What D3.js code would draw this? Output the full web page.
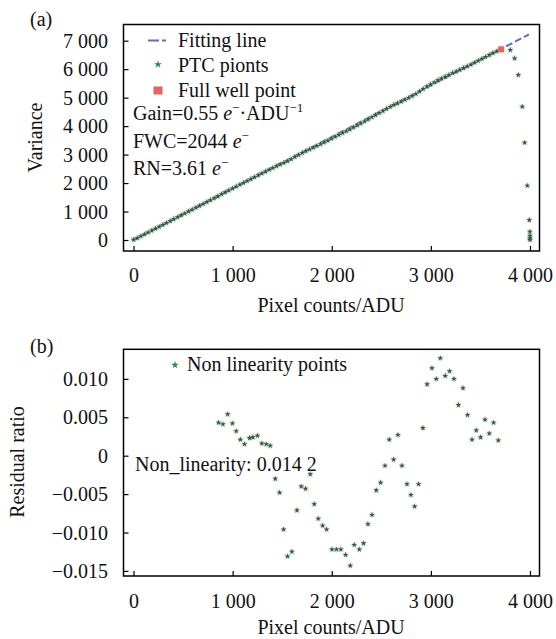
<!DOCTYPE html>
<html><head><meta charset="utf-8">
<script src="https://cdn.jsdelivr.net/npm/d3@7"></script>
<style>
body{margin:0;background:#fff}
svg{display:block}
text{font-family:"Liberation Serif","Times New Roman",serif;fill:#111}
</style>
</head><body>
<svg id="c" width="556" height="639"></svg>
<script>
// ---------- data ----------
const ptcX=[0,37,74,111,148,185,222,259,296,333,370,407,444,481,518,555,592,629,666,703,
740,777,814,851,888,925,962,999,1036,1073,1110,1147,1184,1221,1258,1295,1332,1369,1406,1443,
1480,1517,1554,1591,1628,1665,1702,1739,1776,1813,1850,1887,1924,1961,1998,2035,2072,2109,2146,2183,
2220,2257,2294,2331,2368,2405,2442,2479,2516,2553,2590,2627,2664,2701,2738,2775,2812,2849,2886,2923,
2960,2997,3034,3071,3108,3145,3182,3219,3256,3293,3330,3367,3404,3441,3478,3515,3552,3589,3626,3663,3700];
const ptcY=[10,67,134,200,267,334,401,467,534,601,668,735,801,868,935,1002,1069,1135,1202,1269,
1336,1402,1469,1536,1609,1676,1745,1810,1876,1943,2008,2074,2141,2208,2274,2339,2406,2471,2533,2595,
2655,2711,2771,2843,2918,2990,3060,3123,3184,3243,3306,3365,3431,3494,3563,3629,3695,3761,3824,3885,
3959,4025,4095,4169,4240,4315,4390,4462,4532,4608,4677,4747,4803,4865,4927,4989,5061,5132,5219,5308,
5391,5464,5536,5610,5672,5734,5800,5862,5918,5980,6041,6101,6162,6230,6297,6364,6430,6497,6565,6625,6692];
const dropX=[3801,3845,3882,3922,3946,3973,3993,3999,4000,4000,4000];
const dropY=[6674,6382,5796,4683,3418,1908,703,292,150,60,5];
const fullX=[3710], fullY=[6698];
const fitX=[0,3990], fitY=[0,7222];

const resX=[858,902,950,998,1036,1078,1120,1171,1205,1251,1295,1339,1379,1430,1474,1514,1554,1598,1649,1692,
1736,1783,1823,1864,1908,1948,2002,2047,2092,2140,2187,2227,2278,2321,2365,2406,2449,2493,2537,2580,
2624,2668,2708,2759,2799,2836,2876,2920,2962,3011,3055,3095,3145,3189,3233,3278,3324,3370,3415,3458,
3502,3546,3589,3633,3680];
const resY=[0.0043,0.0041,0.0054,0.0042,0.0032,0.0021,0.0015,0.0023,0.0024,0.0026,0.0016,0.0015,0.0013,-0.0030,-0.0048,-0.0096,-0.0131,-0.0125,-0.0071,-0.0040,
-0.0043,-0.0024,-0.0063,-0.0082,-0.0091,-0.0096,-0.0122,-0.0122,-0.0122,-0.0129,-0.0143,-0.0116,-0.0122,-0.0114,-0.0089,-0.0077,-0.0045,-0.0035,-0.0013,0.0021,
-0.0005,0.0027,-0.0013,-0.0037,-0.0051,-0.0066,-0.0037,0.0036,0.0093,0.0114,0.0100,0.0127,0.0104,0.0110,0.0100,0.0066,0.0088,0.0053,0.0021,0.0033,
0.0024,0.0047,0.0029,0.0043,0.0020];

const xTicks=[0,1000,2000,3000,4000];
const xTickLabels=["0","1 000","2 000","3 000","4 000"];
const yTicksA=[0,1000,2000,3000,4000,5000,6000,7000];
const yTickLabelsA=["0","1 000","2 000","3 000","4 000","5 000","6 000","7 000"];
const yTicksB=[0.010,0.005,0,-0.005,-0.010,-0.015];
const yTickLabelsB=["0.010","0.005","0","\u22120.005","\u22120.010","\u22120.015"];

// ---------- drawing ----------
const svg=d3.select("#c");
const FS=20;
const L=123.5,R=539.5;
const ptColor="#3a5042", halo="#8fcf9a", legStar="#2e8a40", red="#e06464", blue="#5b6ec4";

function frameAxes(x,y,xt,xl,yt,yl,labOff){
  const [b,t]=y.range();
  const gx=svg.append("g").attr("transform",`translate(0,${b})`)
    .call(d3.axisBottom(x).tickValues(xt).tickFormat((d,i)=>xl[i]).tickSizeInner(-5).tickSizeOuter(0));
  gx.select(".domain").remove();
  gx.attr("font-size",FS).attr("font-family",null);
  gx.selectAll("line").attr("stroke","#000").attr("stroke-width",1.2);
  gx.selectAll("text").attr("y",labOff).attr("dy","0").attr("fill","#111");
  const gy=svg.append("g").attr("transform",`translate(${L},0)`)
    .call(d3.axisLeft(y).tickValues(yt).tickFormat((d,i)=>yl[i]).tickSizeInner(-5).tickSizeOuter(0).tickPadding(15.5));
  gy.select(".domain").remove();
  gy.attr("font-size",FS).attr("font-family",null);
  gy.selectAll("line").attr("stroke","#000").attr("stroke-width",1.2);
  gy.selectAll("text").attr("x",-15.5).attr("dy","0.33em").attr("fill","#111");
  svg.append("rect").attr("x",L).attr("y",t).attr("width",R-L).attr("height",b-t)
    .attr("fill","none").attr("stroke","#000").attr("stroke-width",1.5);
}

function rich(x,y,parts){
  const t=svg.append("text").attr("x",x).attr("y",y).attr("font-size",FS);
  let shift=0;
  parts.forEach(p=>{
    const s=t.append("tspan").text(p.t);
    if(p.i) s.attr("font-style","italic");
    const target=p.sup?-8:0;
    if(target!==shift){s.attr("dy",target-shift);shift=target;}
    if(p.sup) s.attr("font-size",13);
  });
}

function stars(data,x,y){
  const g=svg.append("g");
  // soft green halo
  g.selectAll("circle").data(data).join("circle")
    .attr("cx",d=>x(d[0])).attr("cy",d=>y(d[1])).attr("r",3)
    .attr("fill",halo).attr("opacity",0.35);
  g.selectAll("path").data(data).join("path")
    .attr("d",d3.symbol().type(d3.symbolStar).size(10)())
    .attr("transform",d=>`translate(${x(d[0])},${y(d[1])})`).attr("fill",ptColor);
}

// ===== Panel (a) =====
const xA=d3.scaleLinear().domain([-101,4096]).range([L,R]);
const yA=d3.scaleLinear().domain([-386,7569]).range([251,24.5]);

svg.append("path")
  .attr("d",d3.line()(fitX.map((d,i)=>[xA(d),yA(fitY[i])])))
  .attr("fill","none").attr("stroke",blue).attr("stroke-width",2).attr("stroke-dasharray","7,3");

stars(ptcX.map((d,i)=>[d,ptcY[i]]).concat(dropX.map((d,i)=>[d,dropY[i]])),xA,yA);

svg.append("g").selectAll("rect").data(fullX.map((d,i)=>[d,fullY[i]])).join("rect")
  .attr("x",d=>xA(d[0])-3).attr("y",d=>yA(d[1])-3).attr("width",6).attr("height",6).attr("fill",red);

frameAxes(xA,yA,xTicks,xTickLabels,yTicksA,yTickLabelsA,31);

// legend (a)
svg.append("line").attr("x1",148).attr("x2",166).attr("y1",40.5).attr("y2",40.5)
  .attr("stroke",blue).attr("stroke-width",2).attr("stroke-dasharray","11,3");
svg.append("text").attr("x",178).attr("y",47).attr("font-size",FS).text("Fitting line");
svg.append("path").attr("d",d3.symbol().type(d3.symbolStar).size(18)()).attr("transform","translate(158,64.5)").attr("fill",legStar);
svg.append("text").attr("x",178).attr("y",72).attr("font-size",FS).text("PTC pionts");
svg.append("rect").attr("x",153.5).attr("y",86.5).attr("width",9).attr("height",8).attr("fill",red);
svg.append("text").attr("x",178).attr("y",97).attr("font-size",FS).text("Full well point");

rich(133,119.5,[{t:"Gain=0.55 "},{t:"e",i:1},{t:"\u2212",sup:1},{t:"\u00b7ADU"},{t:"\u22121",sup:1}]);
rich(133,147.5,[{t:"FWC=2044 "},{t:"e",i:1},{t:"\u2212",sup:1}]);
rich(133,175,[{t:"RN=3.61 "},{t:"e",i:1},{t:"\u2212",sup:1}]);

svg.append("text").attr("x",30).attr("y",26).attr("font-size",FS).text("(a)");
svg.append("text").attr("transform","translate(42,137.5) rotate(-90)").attr("text-anchor","middle").attr("font-size",FS).text("Variance");
svg.append("text").attr("x",331).attr("y",312).attr("text-anchor","middle").attr("font-size",FS).text("Pixel counts/ADU");

// ===== Panel (b) =====
const yB=d3.scaleLinear().domain([-0.01566,0.01385]).range([576,349.3]);
stars(resX.map((d,i)=>[d,resY[i]]),xA,yB);

frameAxes(xA,yB,xTicks,xTickLabels,yTicksB,yTickLabelsB,32);

svg.append("path").attr("d",d3.symbol().type(d3.symbolStar).size(18)()).attr("transform","translate(175,365)").attr("fill",legStar);
svg.append("text").attr("x",187).attr("y",371).attr("font-size",FS).text("Non linearity points");
svg.append("text").attr("x",135).attr("y",470.5).attr("font-size",FS).text("Non_linearity: 0.014 2");

svg.append("text").attr("x",30).attr("y",353).attr("font-size",FS).text("(b)");
svg.append("text").attr("transform","translate(23.5,462) rotate(-90)").attr("text-anchor","middle").attr("font-size",FS).text("Residual ratio");
svg.append("text").attr("x",331).attr("y",634).attr("text-anchor","middle").attr("font-size",FS).text("Pixel counts/ADU");
</script>
</body></html>
